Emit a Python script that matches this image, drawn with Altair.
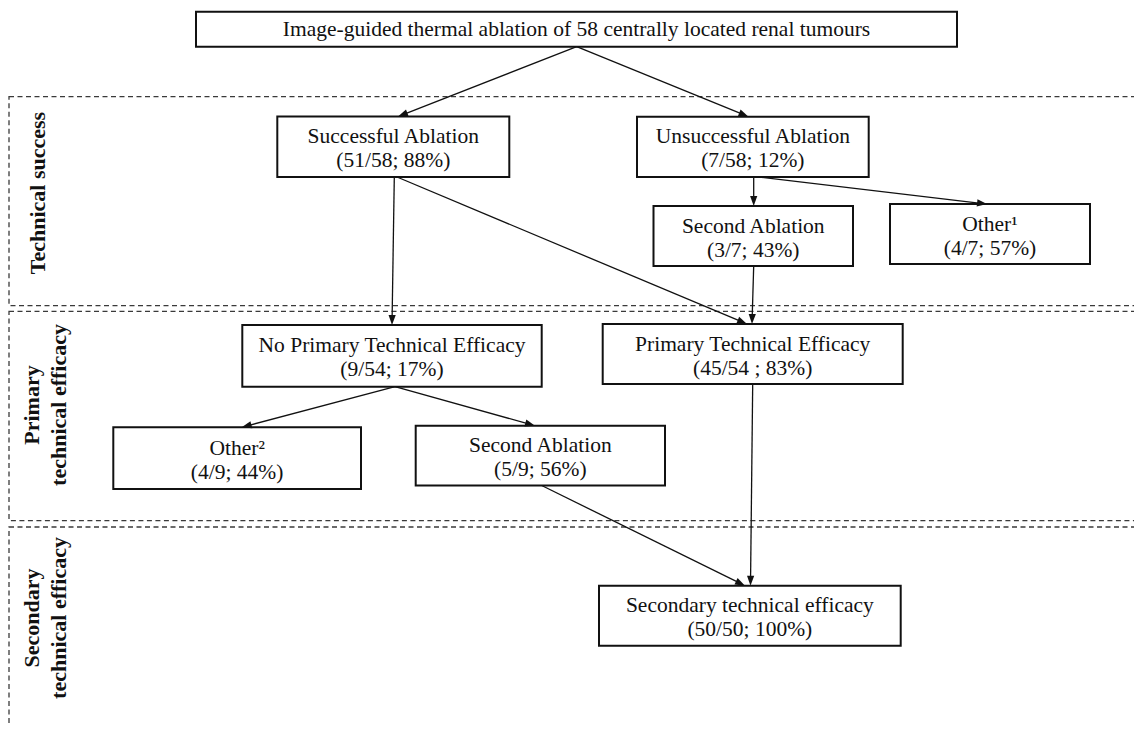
import math
import altair as alt
import pandas as pd

# ---- flowchart nodes (image pixel coordinates) ----
box_line1 = [
    "Image-guided thermal ablation of 58 centrally located renal tumours",
    "Successful Ablation",
    "Unsuccessful Ablation",
    "Second Ablation",
    "Other\u00b9",
    "No Primary Technical Efficacy",
    "Primary Technical Efficacy",
    "Other\u00b2",
    "Second Ablation",
    "Secondary technical efficacy",
]
box_line2 = [
    "",
    "(51/58; 88%)",
    "(7/58; 12%)",
    "(3/7; 43%)",
    "(4/7; 57%)",
    "(9/54; 17%)",
    "(45/54 ; 83%)",
    "(4/9; 44%)",
    "(5/9; 56%)",
    "(50/50; 100%)",
]
box_x1 = [196, 277.3, 637, 653.5, 890, 242.3, 602.7, 113.3, 415.7, 599]
box_x2 = [957, 509.3, 868.7, 853, 1090, 541.7, 902.7, 361, 665, 900.7]
box_y1 = [11.7, 116.5, 116.7, 206, 204, 325, 324, 427.3, 425.7, 585.7]
box_y2 = [46.7, 177, 177, 266, 264, 386.7, 384, 489, 485.5, 645.7]

# ---- arrows: start -> tip ----
arr_x1 = [576.7, 576.7, 394.3, 397, 753.7, 758.7, 753.7, 395, 395, 752.7, 541.7]
arr_y1 = [46.7, 46.7, 177, 177, 177, 177, 266, 386.7, 386.7, 384, 485.5]
arr_x2 = [398, 748.5, 392, 747, 753.7, 987, 752, 241.7, 535, 750.5, 745]
arr_y2 = [116.5, 116.7, 325, 324, 206, 204, 324, 427.3, 425.7, 585.7, 585.7]

# ---- dashed stage sections ----
sec_x1 = [9, 9, 9]
sec_x2 = [1170, 1170, 1170]
sec_y1 = [96.7, 311.3, 527]
sec_y2 = [305.7, 520.7, 790]

# ---- rotated stage labels ----
lab_text = ["Technical success", "Primary", "technical efficacy",
            "Secondary", "technical efficacy"]
lab_x = [38, 32, 59, 32, 59]
lab_y = [193, 405, 405, 618, 618]

# ---- build tables ----
boxes = pd.DataFrame({"x1": box_x1, "x2": box_x2, "y1": box_y1, "y2": box_y2})

txt_rows = []
for t1, t2, a, b, c, d in zip(box_line1, box_line2, box_x1, box_x2, box_y1, box_y2):
    cx = (a + b) / 2
    cy = (c + d) / 2
    if t2:
        txt_rows.append({"t": t1, "x": cx, "y": cy - 3.5})
        txt_rows.append({"t": t2, "x": cx, "y": cy + 20.5})
    else:
        txt_rows.append({"t": t1, "x": cx, "y": cy + 7})
texts = pd.DataFrame(txt_rows)

line_rows = []
head_rows = []
for a, b, c, d in zip(arr_x1, arr_y1, arr_x2, arr_y2):
    dx, dy = c - a, d - b
    L = math.hypot(dx, dy)
    ux, uy = dx / L, dy / L
    line_rows.append({"x": a, "y": b, "x2": c - ux * 4, "y2": d - uy * 4})
    ang = (math.degrees(math.atan2(dy, dx)) + 90) % 360
    head_rows.append({"x": c, "y": d, "ang": ang})
lines = pd.DataFrame(line_rows)
heads = pd.DataFrame(head_rows)

secs = pd.DataFrame({"x1": sec_x1, "x2": sec_x2, "y1": sec_y1, "y2": sec_y2})
labels = pd.DataFrame({"t": lab_text, "x": lab_x, "y": lab_y})

xs = alt.Scale(domain=[8, 1134], nice=False, zero=False)
ys = alt.Scale(domain=[8, 725], nice=False, zero=False, reverse=True)

sec_layer = alt.Chart(secs).mark_rect(
    fill="transparent", stroke="#3a3a3a", strokeWidth=1.3, strokeDash=[5, 3.5]
).encode(
    x=alt.X("x1:Q", scale=xs, axis=None), x2="x2:Q",
    y=alt.Y("y1:Q", scale=ys, axis=None), y2="y2:Q",
)

line_layer = alt.Chart(lines).mark_rule(color="#111", strokeWidth=1.3).encode(
    x=alt.X("x:Q", scale=xs, axis=None), x2="x2:Q",
    y=alt.Y("y:Q", scale=ys, axis=None), y2="y2:Q",
)

head_layer = alt.Chart(heads).mark_point(
    shape="M0,0L-0.36,1L0.36,1Z", filled=True, size=400, color="#111", opacity=1
).encode(
    x=alt.X("x:Q", scale=xs, axis=None),
    y=alt.Y("y:Q", scale=ys, axis=None),
    angle=alt.Angle("ang:Q", scale=None),
)

box_layer = alt.Chart(boxes).mark_rect(
    fill="white", stroke="#111", strokeWidth=2
).encode(
    x=alt.X("x1:Q", scale=xs, axis=None), x2="x2:Q",
    y=alt.Y("y1:Q", scale=ys, axis=None), y2="y2:Q",
)

text_layer = alt.Chart(texts).mark_text(
    font="Liberation Serif", fontSize=21.5, align="center",
    baseline="alphabetic", color="#111"
).encode(
    x=alt.X("x:Q", scale=xs, axis=None),
    y=alt.Y("y:Q", scale=ys, axis=None),
    text="t:N",
)

label_layer = alt.Chart(labels).mark_text(
    font="Liberation Serif", fontSize=22, fontWeight="bold", align="center",
    baseline="middle", angle=270, color="#111"
).encode(
    x=alt.X("x:Q", scale=xs, axis=None),
    y=alt.Y("y:Q", scale=ys, axis=None),
    text="t:N",
)

chart = alt.layer(
    sec_layer, line_layer, box_layer, head_layer, text_layer, label_layer
).properties(
    width=1126, height=717, padding=0,
    autosize=alt.AutoSizeParams(type="none"),
    background="white",
).configure_view(strokeWidth=0)

chart.save("out.html", embed_options={"renderer": "svg", "actions": False})
